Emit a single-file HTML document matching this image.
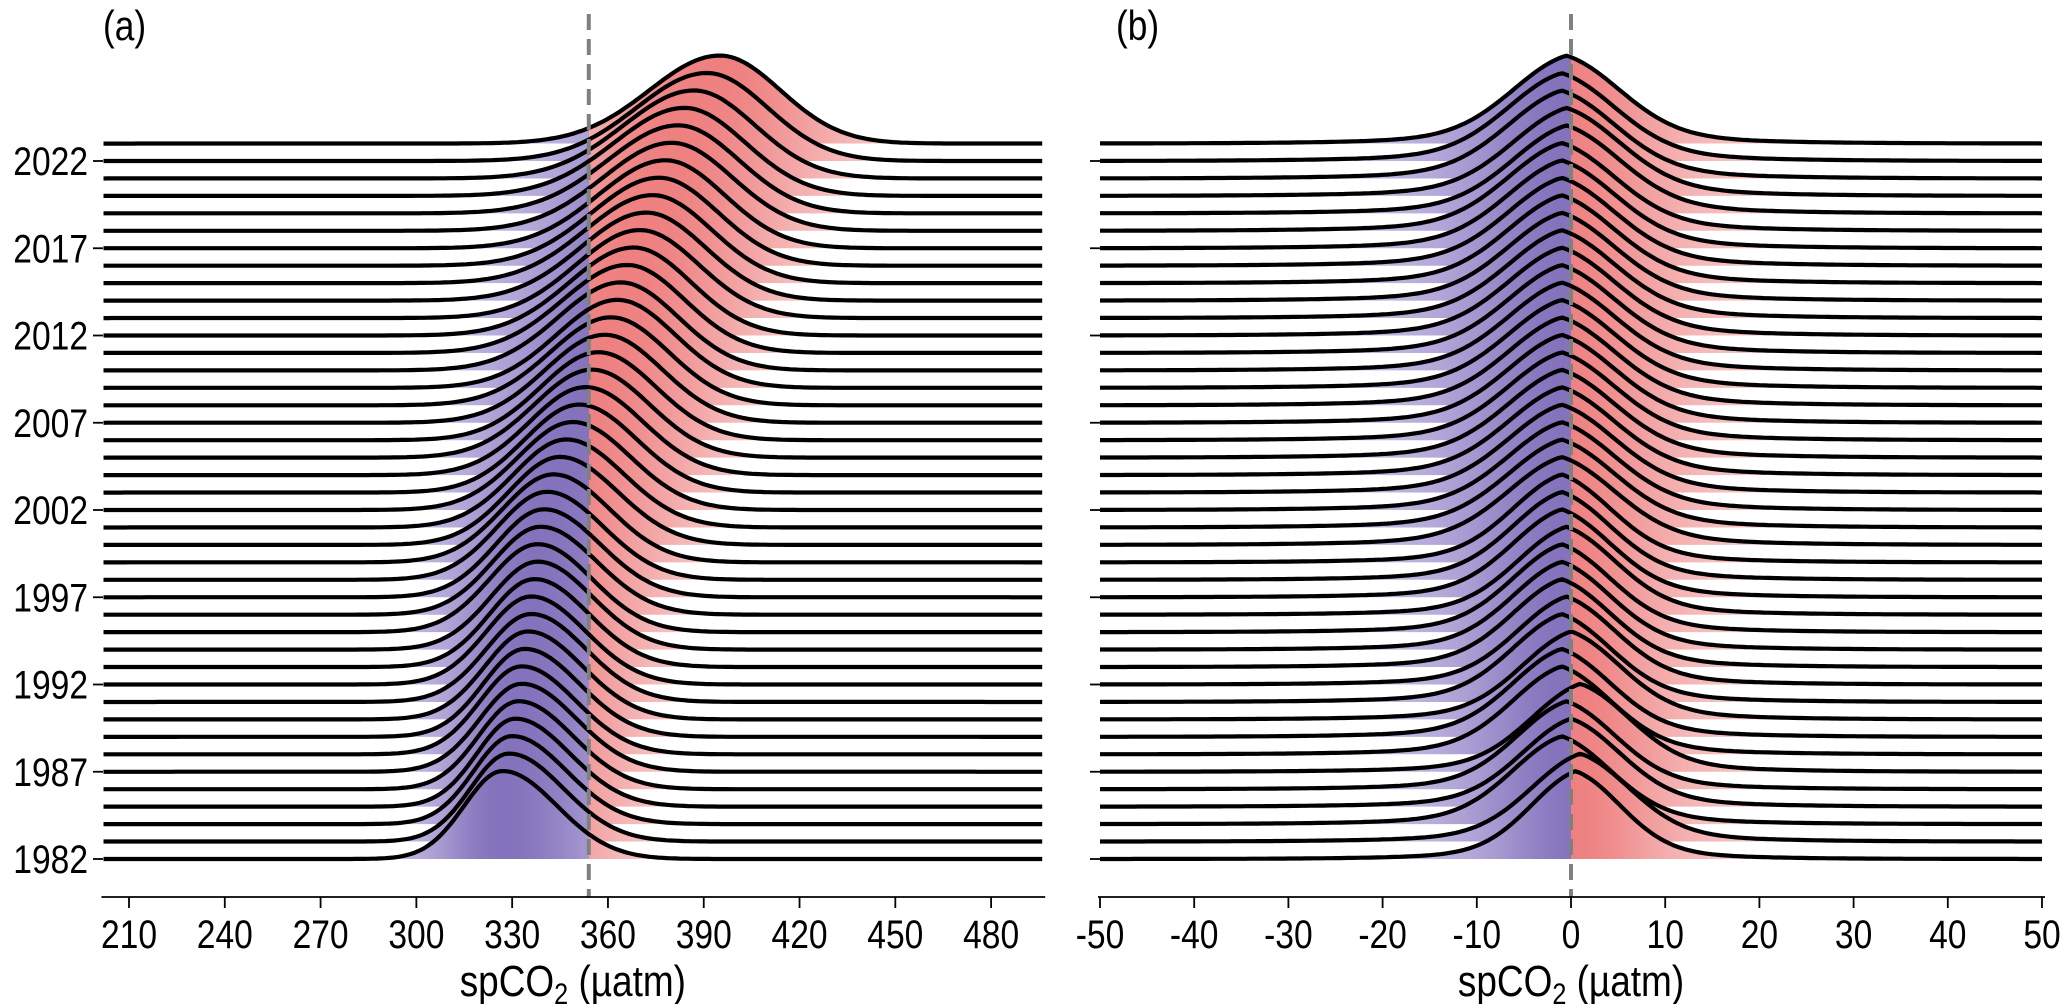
<!DOCTYPE html>
<html><head><meta charset="utf-8"><style>
html,body{margin:0;padding:0;background:#fff;}
svg{display:block;font-family:"Liberation Sans",sans-serif;}
</style></head><body>
<svg id="chart" width="2067" height="1004" viewBox="0 0 2067 1004">
<defs id="defs"></defs>
<g id="panelA"></g>
<g id="panelB"></g>
</svg>
<script>
const years = [];
for (let y = 1982; y <= 2023; y++) years.push(y);
const yearTickLabels = ["1982","1987","1992","1997","2002","2007","2012","2017","2022"];
const xTicksA = [210,240,270,300,330,360,390,420,450,480];
const xTicksB = [-50,-40,-30,-20,-10,0,10,20,30,40,50];
// panel a: per-year peak location and left/right spread (µatm)
const meanA = [327,329,330,331,332,333,333,334,335,336,336,337,338,338,339,340,341,343,345,347,349,351,353,355,357,359,361,363,364,366,368,370,372,374,376,378,380,382,384,387,391,395];
const sdLA = [12,12,12,12,12.5,13,13,13,13.5,14,14,14,14.5,15,15,15,15.5,16,16,16.5,17,17,17.5,18,18,18.5,19,19,19.5,20,20,20,20.5,21,21,21,21.5,22,22,22,22,22];
const sdRA = [17,17,17,17,17,17,17,17,17,17,17,17,17,17,17.5,17.5,17.5,17.5,18,18,18,18,18,18,18,18,18,18,18,18,18,18.5,18.5,18.5,18.5,18.5,19,19,19,19,19,19];
const refA = 354;
// panel b: per-year peak location and spread (µatm)
const meanB = [0.5,1,-1,0,-0.5,1,-1,-1,0,-1,-0.5,-1,-1,-1,-0.5,-1,-1,-1,-1,-1,-1,-1,-1,-1,-1,-1,-1,-1,-1,-1,-1,-1,-1,-1,-1,-1,-1,-0.5,-0.5,-1,-1,-0.5];
const sdB = [5,5.5,5.5,5.5,5.5,5.5,5.5,5.5,5.5,5.5,5.5,5.5,5.5,5.5,5.5,5.5,5.5,5.5,6,6,6,6,6,6,6,6,6,6,6,6,6,6,6,6,6,6,6,6,6,6,6,6];
const refB = 0;

const NS = "http://www.w3.org/2000/svg";
const defs = document.getElementById('defs');
const y0 = 859, yStep = 17.45, H = 88;
function yBase(yr){ return y0 - (yr - 1982) * yStep; }
const A = {g: document.getElementById('panelA'), x0:129, v0:210, k:3.193, vmin:202, vmax:496, ref:refA, label:'(a)', lx:103};
const B = {g: document.getElementById('panelB'), x0:1571, v0:0, k:9.42, vmin:-50, vmax:50, ref:refB, label:'(b)', lx:1116};
function xs(P, v){ return P.x0 + (v - P.v0) * P.k; }
function el(tag, attrs, parent){ const e = document.createElementNS(NS, tag); for (const k in attrs) e.setAttribute(k, attrs[k]); parent.appendChild(e); return e; }
function mix(a,b,t){ return 'rgb(' + a.map((c,i)=>Math.round(c+(b[i]-c)*t)).join(',') + ')'; }
const PL=[205,197,232], PD=[132,114,188], RL=[248,208,208], RD=[238,128,128];
const SX = 0.84;

function densA(i, v){ const s = v < meanA[i] ? sdLA[i] : sdRA[i]; return Math.exp(-0.5*Math.pow((v-meanA[i])/s,2)); }
function densB(i, v){ const d = Math.abs(v-meanB[i]); return 0.7*Math.exp(-0.5*Math.pow(d/sdB[i],2)) + 0.3*Math.exp(-d/(sdB[i]*1.5)); }

function drawPanel(P, dens, id){
  const step = (P.vmax - P.vmin) / 220;
  for (let i = years.length - 1; i >= 0; i--) {
    const yb = yBase(years[i]);
    const gid = id + 'grad' + i;
    const grad = el('linearGradient', {id: gid, gradientUnits:'userSpaceOnUse', x1: xs(P,P.vmin), x2: xs(P,P.vmax), y1:0, y2:0}, defs);
    const span = xs(P,P.vmax) - xs(P,P.vmin);
    let pts = [];
    for (let j = 0; j <= 220; j++) {
      const v = P.vmin + j*step;
      const d = dens(i, v);
      const t = Math.sqrt(d);
      pts.push([xs(P,v), yb - H*d]);
      const off = (xs(P,v) - xs(P,P.vmin)) / span;
      const left = v < P.ref;
      el('stop', {offset: off, 'stop-color': left ? mix(PL,PD,t) : mix(RL,RD,t)}, grad);
      const vn = v + step;
      if (v < P.ref && vn >= P.ref) {
        const offr = (xs(P,P.ref) - xs(P,P.vmin)) / span;
        const dr = Math.sqrt(dens(i, P.ref));
        el('stop', {offset: offr, 'stop-color': mix(PL,PD,dr)}, grad);
        el('stop', {offset: offr, 'stop-color': mix(RL,RD,dr)}, grad);
      }
    }
    const line = pts.map((p,k)=>(k?'L':'M')+p[0].toFixed(1)+','+p[1].toFixed(1)).join(' ');
    const area = el('path', {d: line + ' L' + pts[pts.length-1][0].toFixed(1) + ',' + yb + ' L' + pts[0][0].toFixed(1) + ',' + yb + ' Z', fill: 'url(#'+gid+')', stroke:'none'}, P.g);
    
    
    const path = el('path', {d: line, fill:'none', stroke:'#000', 'stroke-width':4.2, 'stroke-linejoin':'round'}, P.g);
    
    
  }
  const ref = el('line', {x1: xs(P,P.ref), x2: xs(P,P.ref), y1: 14, y2: 897, stroke:'#808080', 'stroke-width':4, 'stroke-dasharray':'16,9'}, P.g);
  
  
  const ax = el('line', {x1: xs(P,P.vmin)-2, x2: xs(P,P.vmax)+3, y1: 897, y2: 897, stroke:'#000', 'stroke-width':1.8}, P.g);
  
  
  const ticks = id === 'a' ? xTicksA : xTicksB;
  ticks.forEach(t => {
    const tk = el('line', {x1: xs(P,t), x2: xs(P,t), y1: 897, y2: 908, stroke:'#000', 'stroke-width':1.8}, P.g);
    
    
    const tl = el('text', {transform: 'translate(' + xs(P,t) + ',948) scale(' + SX + ',1)', 'font-size': 40, 'text-anchor':'middle'}, P.g);
    tl.textContent = String(t);
    
    
  });
  const xt = el('text', {transform: 'translate(' + xs(P,(P.vmin+P.vmax)/2) + ',996) scale(' + SX + ',1)', 'font-size': 44, 'text-anchor':'middle'}, P.g);
  xt.innerHTML = 'spCO<tspan font-size="30" dy="8">2</tspan><tspan dy="-8"> (µatm)</tspan>';
  
  
  const pl = el('text', {transform: 'translate(' + P.lx + ',40) scale(' + SX + ',1)', 'font-size': 42}, P.g);
  pl.textContent = P.label;
  
  
  yearTickLabels.forEach(lab => {
    const yy = yBase(+lab);
    const xl = id === 'a' ? 103 : 1100;
    const tk = el('line', {x1: xl-10, x2: xl, y1: yy, y2: yy, stroke:'#000', 'stroke-width':1.8}, P.g);
    
    
    if (id === 'a') {
      const t = el('text', {transform: 'translate(88,' + (yy + 14) + ') scale(' + SX + ',1)', 'font-size': 40, 'text-anchor':'end'}, P.g);
      t.textContent = lab;
      
      
    }
  });
}
drawPanel(A, densA, 'a');
drawPanel(B, densB, 'b');
</script>
</body></html>
